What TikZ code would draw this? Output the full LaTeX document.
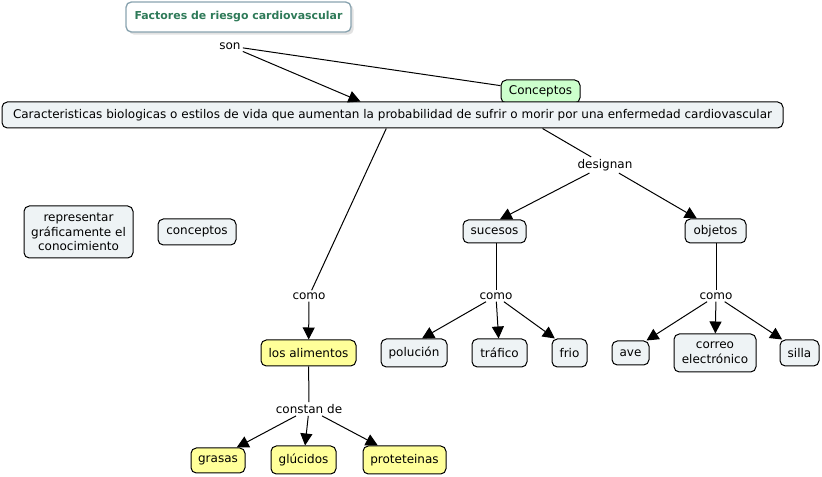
\documentclass[tikz,border=0pt]{standalone}
\usepackage{fontspec}
\setmainfont{DejaVu Sans}
\usetikzlibrary{arrows.meta,shadows}
\definecolor{nodefill}{HTML}{EEF3F5}
\definecolor{yel}{HTML}{FFFF99}
\definecolor{grn}{HTML}{CCFFCC}
\definecolor{titletext}{HTML}{2E7A58}
\definecolor{titleborder}{HTML}{8AA4B0}
\begin{document}
\begin{tikzpicture}[x=0.75pt,y=-0.75pt,
  font=\fontsize{9}{11}\selectfont,
  concept/.style={draw=black,line width=0.75pt,rounded corners=4pt,fill=nodefill,inner sep=2pt,align=center},
  yconcept/.style={concept,fill=yel},
  gconcept/.style={concept,fill=grn},
  lab/.style={fill=white,inner sep=1.5pt},
  conn/.style={line width=0.75pt},
  arr/.style={line width=0.75pt,-{Triangle[length=9pt,width=9pt]}},
  sz/.style 2 args={minimum width=#1*0.75pt,minimum height=#2*0.75pt}]
\useasboundingbox (0,0) rectangle (822,477);
% title
\node[draw=titleborder,line width=1pt,rounded corners=4pt,fill=white,
  drop shadow={shadow xshift=2pt,shadow yshift=-2pt,fill=gray!45},
  text=titletext,font=\fontsize{8.2}{10}\selectfont\bfseries,sz={225}{30}] (title) at (238.5,17) {Factores de riesgo cardiovascular};
\node[lab] (son) at (230,46) {son};
\node[gconcept,sz={79}{23}] (conc) at (540.5,91.5) {Conceptos};
\node[concept,sz={781}{26}] (big) at (392.5,115) {Caracteristicas biologicas o estilos de vida que aumentan la probabilidad de sufrir o morir por una enfermedad cardiovascular};
% left isolated
\node[concept,sz={109}{52}] (rep) at (78.5,232) {representar\\gráficamente el\\conocimiento};
\node[concept,sz={78}{26}] (cpt) at (197,232) {conceptos};
% labels
\node[lab] (desig) at (605,165) {designan};
\node[lab] (como1) at (309,296) {como};
\node[lab] (como2) at (496,296) {como};
\node[lab] (como3) at (716,296) {como};
\node[lab] (constan) at (309,409) {constan de};
% concepts
\node[concept,sz={63}{23}] (suc) at (494.5,231.5) {sucesos};
\node[concept,sz={61}{24}] (obj) at (715.5,231) {objetos};
\node[yconcept,sz={95}{26}] (alim) at (308.5,353) {los alimentos};
\node[concept,sz={66}{28}] (polu) at (414,353) {polución};
\node[concept,sz={55}{28}] (traf) at (499.5,353) {tráfico};
\node[concept,sz={35}{28}] (frio) at (569.5,353) {frio};
\node[concept,sz={37}{24}] (ave) at (630.5,353) {ave};
\node[concept,sz={82}{38}] (correo) at (715,353) {correo\\electrónico};
\node[concept,sz={39}{26}] (silla) at (799.5,353) {silla};
\node[yconcept,sz={54}{25}] (grasas) at (218,460.5) {grasas};
\node[yconcept,sz={65}{28}] (gluc) at (303.5,460) {glúcidos};
\node[yconcept,sz={83}{28}] (prot) at (404.5,460) {proteteinas};
% connectors
\draw[arr] (son) -- ([xshift=-24pt]big.north);
\draw[conn] (son) -- (conc);
\draw[conn] (big) -- (como1);
\draw[arr] (como1) -- (alim);
\draw[conn] ([xshift=112.5pt]big.south) -- (desig);
\draw[arr] (desig) -- ([xshift=4pt]suc.north);
\draw[arr] (desig) -- ([xshift=-14pt]obj.north);
\draw[conn] (suc.south -| como2) -- (como2);
\draw[arr] (como2) -- ([xshift=6pt]polu.north);
\draw[arr] (como2) -- (traf);
\draw[arr] (como2) -- ([xshift=-11pt]frio.north);
\draw[conn] (obj.south -| como3) -- (como3);
\draw[arr] (como3) -- ([xshift=12pt]ave.north);
\draw[arr] (como3) -- (correo);
\draw[arr] (como3) -- ([xshift=-13pt]silla.north);
\draw[conn] (alim) -- (constan);
\draw[arr] (constan) -- ([xshift=14pt]grasas.north);
\draw[arr] (constan) -- (gluc);
\draw[arr] (constan) -- ([xshift=-20pt]prot.north);
\end{tikzpicture}
\end{document}
